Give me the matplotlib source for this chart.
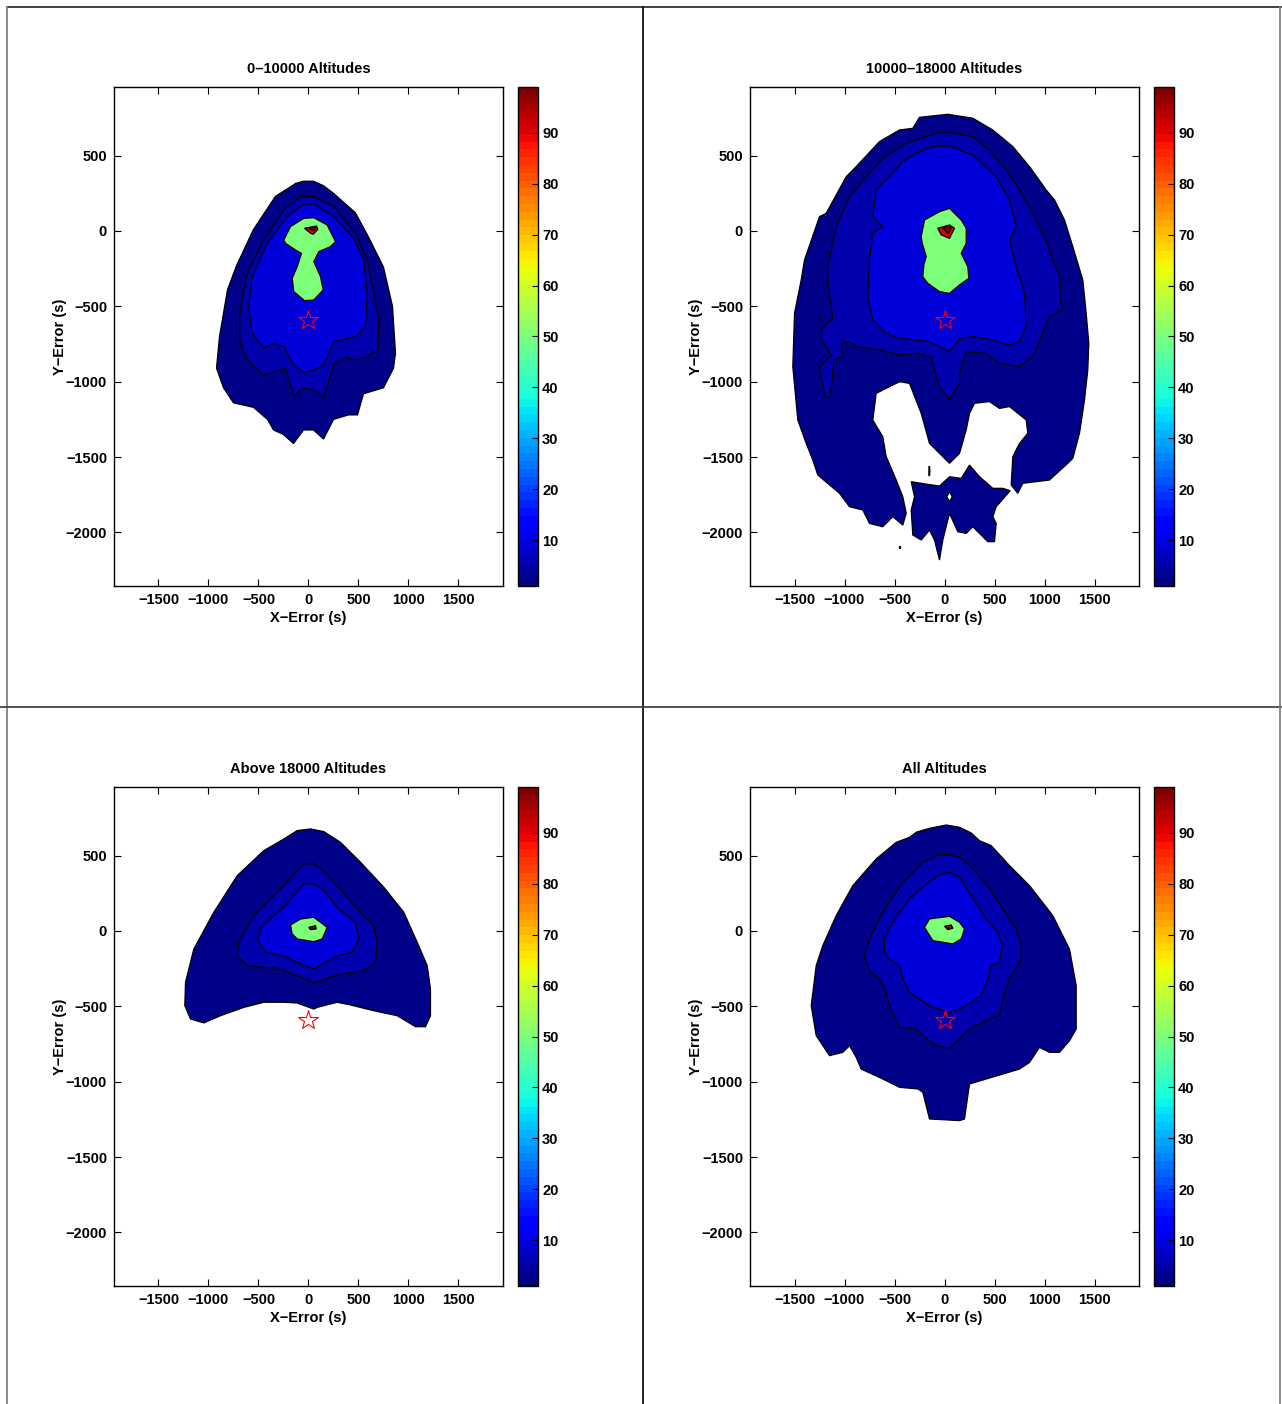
import matplotlib
matplotlib.use("Agg")
import matplotlib.pyplot as plt
from matplotlib.cm import ScalarMappable
from matplotlib.colors import Normalize
from matplotlib.lines import Line2D

plt.rcParams["font.family"] = ["Liberation Sans Narrow", "Liberation Sans", "DejaVu Sans"]
plt.rcParams["font.weight"] = "bold"

# contour level values (colour of each filled band)
LEVELS = [2, 5, 9, 50, 91, 98]
STAR = (0, -590)

TITLES = ["0\u201310000 Altitudes", "10000\u201318000 Altitudes",
          "Above 18000 Altitudes", "All Altitudes"]
X_TICKS = [-1500, -1000, -500, 0, 500, 1000, 1500]
Y_TICKS = [-2000, -1500, -1000, -500, 0, 500]
CB_TICKS = [10, 20, 30, 40, 50, 60, 70, 80, 90]

# ---- panel 1 : 0-10000 ----
P1_L1 = [(-50, 330), (50, 330), (150, 300), (250, 250), (470, 120), (600, -40), (750, -240),
         (840, -500), (870, -810), (850, -910), (750, -1040), (650, -1060), (550, -1080),
         (490, -1220), (400, -1220), (250, -1250), (150, -1380), (50, -1320), (-50, -1320),
         (-150, -1410), (-250, -1350), (-350, -1320), (-410, -1250), (-550, -1170),
         (-750, -1140), (-850, -1040), (-920, -910), (-890, -700), (-810, -390), (-720, -230),
         (-550, 10), (-330, 230), (-210, 280), (-130, 315)]
P1_L2 = [(-80, 228), (53, 228), (253, 161), (470, -15), (587, -192), (647, -391), (703, -590),
         (693, -790), (587, -834), (470, -856), (370, -838), (253, -878), (153, -1104),
         (53, -1055), (-47, -1044), (-147, -1095), (-230, -911), (-447, -955), (-613, -856),
         (-687, -734), (-687, -546), (-613, -281), (-447, -60), (-247, 140)]
P1_L3 = [(-47, 179), (53, 179), (253, 95), (453, -49), (553, -192), (587, -414), (570, -635),
         (470, -701), (253, -734), (153, -889), (53, -922), (-47, -938), (-147, -889),
         (-247, -767), (-347, -745), (-447, -778), (-563, -679), (-597, -502), (-563, -303),
         (-413, -82), (-213, 95)]
P1_GREEN = [(-47, 84), (53, 88), (187, 40), (270, -71), (220, -104), (103, -137), (53, -203),
            (120, -303), (147, -391), (53, -458), (-40, -462), (-147, -402), (-163, -314),
            (-113, -237), (-70, -148), (-130, -126), (-230, -82), (-247, -60), (-180, 29)]
P1_RED = [(-40, 18), (80, 33), (93, 11), (47, -22), (20, -15)]
P1_PEAK = [(3, 18), (70, 27), (53, 2)]

# ---- panel 2 : 10000-18000 ----
P2_L1 = [(-250, 754), (33, 774), (283, 748), (483, 670), (683, 560), (850, 427), (1017, 272),
         (1100, 206), (1200, 73), (1283, -104), (1383, -325), (1417, -546), (1443, -745),
         (1433, -922), (1400, -1121), (1350, -1342), (1283, -1508), (1233, -1541),
         (1050, -1652), (783, -1674), (733, -1740), (667, -1685), (683, -1497), (750, -1409),
         (833, -1342), (817, -1254), (650, -1165), (550, -1177), (450, -1132), (300, -1143),
         (250, -1210), (217, -1320), (150, -1475), (50, -1541), (-150, -1409), (-233, -1210),
         (-350, -1011), (-450, -1000), (-683, -1077), (-717, -1254), (-617, -1365),
         (-583, -1497), (-483, -1652), (-417, -1763), (-383, -1873), (-417, -1951),
         (-517, -1895), (-617, -1962), (-750, -1940), (-817, -1851), (-950, -1829),
         (-1050, -1740), (-1267, -1619), (-1317, -1519), (-1383, -1409), (-1467, -1254),
         (-1517, -900), (-1500, -546), (-1433, -325), (-1400, -192), (-1250, 95),
         (-1183, 117), (-983, 360), (-883, 427), (-650, 593), (-450, 670), (-317, 681)]
P2_L1_BOTTOM = [(-333, -1663), (-183, -1679), (-50, -1692), (50, -1630), (167, -1641),
                (250, -1553), (350, -1630), (483, -1707), (583, -1707), (657, -1723),
                (517, -1829), (483, -1895), (517, -1940), (500, -2061), (433, -2061),
                (283, -1962), (217, -2006), (133, -1995), (50, -1873), (-17, -2050),
                (-50, -2183), (-100, -2050), (-150, -1984), (-233, -2050), (-317, -2017),
                (-333, -1851), (-300, -1763)]
P2_L1_SPECKS = [
    [(-156, -1565), (-150, -1560), (-146, -1590), (-150, -1625), (-156, -1620)],
    [(-455, -2088), (-445, -2088), (-445, -2100), (-455, -2100)],
    [(-955, -485), (-945, -485), (-945, -497), (-955, -497)],
    [(-1255, -570), (-1245, -570), (-1245, -590), (-1255, -590)],
]
P2_HOLE = [(50, -1730), (77, -1763), (50, -1796), (23, -1763)]
P2_L2 = [(-50, 652), (50, 652), (283, 626), (450, 537), (617, 405), (750, 272), (883, 117),
         (1000, -38), (1083, -192), (1167, -325), (1150, -436), (1183, -524), (1050, -568),
         (983, -679), (883, -834), (750, -900), (550, -878), (417, -812), (217, -801),
         (150, -944), (150, -1011), (50, -1121), (-50, -1033), (-100, -922), (-133, -834),
         (-283, -812), (-450, -823), (-650, -790), (-883, -767), (-950, -734), (-1033, -745),
         (-1017, -834), (-1107, -856), (-1123, -989), (-1150, -1110), (-1200, -1088),
         (-1250, -904), (-1133, -823), (-1233, -712), (-1223, -646), (-1117, -579),
         (-1167, -325), (-1167, -237), (-1083, 29), (-950, 228), (-783, 360), (-617, 482),
         (-383, 582), (-183, 626)]
P2_L3 = [(-117, 560), (50, 564), (283, 504), (517, 360), (650, 206), (717, 29), (650, -60),
         (717, -237), (800, -414), (817, -635), (750, -734), (650, -756), (483, -723),
         (283, -701), (150, -712), (50, -801), (-50, -767), (-150, -734), (-450, -712),
         (-583, -679), (-717, -590), (-767, -436), (-750, -192), (-717, -15), (-617, 29),
         (-717, 95), (-683, 272), (-583, 338), (-417, 460), (-250, 526)]
P2_GREEN = [(-50, 128), (50, 150), (167, 73), (217, 18), (217, -82), (167, -148), (233, -237),
            (243, -314), (150, -358), (50, -414), (-50, -402), (-167, -347), (-217, -303),
            (-207, -226), (-183, -170), (-223, -82), (-233, -38), (-200, 73)]
P2_RED = [(-67, 18), (50, 40), (100, 18), (50, -49), (-33, -26)]
P2_PEAK = [(-17, 18), (67, 29), (43, -20)]

# ---- panel 3 : above 18000 ----
P3_L1 = [(-113, 666), (20, 677), (153, 659), (320, 588), (520, 456), (753, 290), (953, 124),
         (1087, -75), (1187, -230), (1220, -385), (1220, -562), (1170, -635), (1070, -635),
         (887, -562), (653, -529), (420, -491), (287, -473), (87, -507), (53, -518),
         (-113, -478), (-247, -473), (-447, -473), (-647, -507), (-880, -562), (-1047, -610),
         (-1180, -584), (-1237, -495), (-1230, -341), (-1147, -120), (-947, 124),
         (-713, 367), (-447, 533), (-247, 610)]
P3_L2 = [(-47, 445), (53, 445), (187, 378), (353, 246), (487, 146), (653, 35), (687, -75),
         (670, -208), (553, -263), (320, -285), (53, -345), (-113, -296), (-313, -248),
         (-613, -230), (-713, -164), (-697, -75), (-547, 102), (-247, 301)]
P3_L3 = [(-47, 312), (53, 312), (153, 268), (303, 146), (470, 58), (503, -53), (437, -142),
         (287, -164), (53, -252), (-113, -208), (-247, -164), (-430, -142), (-513, -53),
         (-463, 35), (-247, 157), (-147, 234)]
P3_GREEN = [(-180, 40), (-80, 79), (53, 91), (187, 24), (137, -53), (53, -71), (-113, -53),
            (-163, -20)]
P3_PEAK = [(3, 24), (70, 35), (77, 13), (20, 9)]

# ---- panel 4 : all altitudes ----
P4_L1 = [(-150, 681), (17, 703), (150, 688), (267, 650), (350, 599), (467, 566), (650, 434),
         (850, 301), (1083, 102), (1250, -120), (1317, -363), (1317, -650), (1250, -728),
         (1150, -805), (1050, -805), (950, -772), (850, -872), (750, -916), (583, -949),
         (417, -982), (250, -1015), (200, -1247), (150, -1258), (-150, -1247), (-217, -1070),
         (-267, -1048), (-450, -1037), (-617, -982), (-833, -916), (-883, -838), (-950, -761),
         (-1017, -805), (-1150, -827), (-1283, -694), (-1333, -495), (-1283, -230),
         (-1217, -97), (-1083, 102), (-917, 301), (-683, 478), (-483, 588), (-350, 621),
         (-283, 655)]
P4_L2 = [(-50, 506), (50, 506), (183, 478), (317, 389), (450, 279), (583, 146), (717, 13),
         (767, -75), (767, -186), (650, -319), (583, -451), (550, -562), (450, -584),
         (250, -650), (50, -778), (-83, -761), (-217, -694), (-283, -650), (-450, -639),
         (-550, -495), (-583, -407), (-650, -319), (-750, -263), (-800, -164), (-750, -53),
         (-617, 124), (-417, 323), (-217, 456)]
P4_L3 = [(-33, 378), (50, 389), (150, 356), (267, 234), (417, 79), (533, -9), (577, -97),
         (550, -208), (467, -230), (433, -319), (367, -429), (267, -473), (150, -518),
         (33, -540), (-150, -495), (-350, -407), (-417, -319), (-450, -230), (-550, -186),
         (-600, -142), (-600, -53), (-517, 58), (-350, 212), (-183, 312)]
P4_GREEN = [(-150, 80), (50, 97), (150, 58), (200, 13), (167, -53), (83, -86), (-117, -64),
            (-200, 24)]
P4_PEAK = [(0, 31), (67, 40), (83, 18), (33, 9)]

cmap = plt.get_cmap("jet", 64)
fill_cmap = plt.get_cmap("jet")
norm = Normalize(vmin=1, vmax=99)


def band_color(level):
    return fill_cmap(norm(level))


panels = [
    [(P1_L1, LEVELS[0]), (P1_L2, LEVELS[1]), (P1_L3, LEVELS[2]), (P1_GREEN, LEVELS[3]),
     (P1_RED, LEVELS[4]), (P1_PEAK, LEVELS[5])],
    [(P2_L1, LEVELS[0]), (P2_L1_BOTTOM, LEVELS[0]), (P2_HOLE, None)]
    + [(s, LEVELS[0]) for s in P2_L1_SPECKS]
    + [(P2_L2, LEVELS[1]), (P2_L3, LEVELS[2]), (P2_GREEN, LEVELS[3]), (P2_RED, LEVELS[4]),
       (P2_PEAK, LEVELS[5])],
    [(P3_L1, LEVELS[0]), (P3_L2, LEVELS[1]), (P3_L3, LEVELS[2]), (P3_GREEN, LEVELS[3]),
     (P3_PEAK, LEVELS[5])],
    [(P4_L1, LEVELS[0]), (P4_L2, LEVELS[1]), (P4_L3, LEVELS[2]), (P4_GREEN, LEVELS[3]),
     (P4_PEAK, LEVELS[5])],
]

W, H = 1282, 1404
FS = 10.5
fig = plt.figure(figsize=(W / 100, H / 100), dpi=100)

# page frame lines of the original document
for x0, y0, x1, y1, c in [(7, 6.5, W, 6.5, "#333333"), (7, 6.5, 7, H, "#808080"),
                           (643, 6.5, 643, H, "#111111"), (0, 707, W, 707, "#444444"),
                           (1279.5, 6.5, 1279.5, H, "#808080")]:
    fig.add_artist(Line2D([x0 / W, x1 / W], [1 - y0 / H, 1 - y1 / H], color=c, lw=1.3))

ax_w, ax_h = 389 / W, 499 / H
cb_w = 20 / W
lefts = [114 / W, 750 / W]
bottoms = [1 - 586 / H, 1 - 1286 / H]

for i, layers in enumerate(panels):
    left = lefts[i % 2]
    bottom = bottoms[i // 2]
    ax = fig.add_axes([left, bottom, ax_w, ax_h])
    for poly, level in layers:
        xs = [p[0] for p in poly]
        ys = [p[1] for p in poly]
        face = "white" if level is None else band_color(level)
        ax.fill(xs, ys, facecolor=face, edgecolor="black", lw=0.9, zorder=2)
    ax.plot(*STAR, marker="*", ms=15, mfc="none", mec="red", mew=0.8, zorder=5)
    ax.set_xlim(-1945, 1945)
    ax.set_ylim(-2355, 955)
    ax.set_xticks(X_TICKS)
    ax.set_yticks(Y_TICKS)
    ax.tick_params(direction="in", top=True, right=True, length=5, width=0.8,
                   labelsize=FS, pad=5)
    for lab in ax.get_xticklabels() + ax.get_yticklabels():
        lab.set_fontweight("bold")
    for sp in ax.spines.values():
        sp.set_linewidth(1.0)
    ax.set_title(TITLES[i], fontsize=FS, fontweight="bold", pad=10)
    ax.set_xlabel("X\u2212Error (s)", fontsize=FS, fontweight="bold", labelpad=3)
    ax.set_ylabel("Y\u2212Error (s)", fontsize=FS, fontweight="bold")
    ax.yaxis.set_label_coords(-0.12, 0.5)

    cax = fig.add_axes([left + 404 / W, bottom, cb_w, ax_h])
    cb = fig.colorbar(ScalarMappable(norm=norm, cmap=cmap), cax=cax, ticks=CB_TICKS)
    cb.outline.set_linewidth(1.0)
    cax.tick_params(direction="in", length=4, width=0.8, labelsize=FS, pad=3)
    for lab in cax.get_yticklabels():
        lab.set_fontweight("bold")

fig.savefig("out.png", dpi=100)
plt.close(fig)
